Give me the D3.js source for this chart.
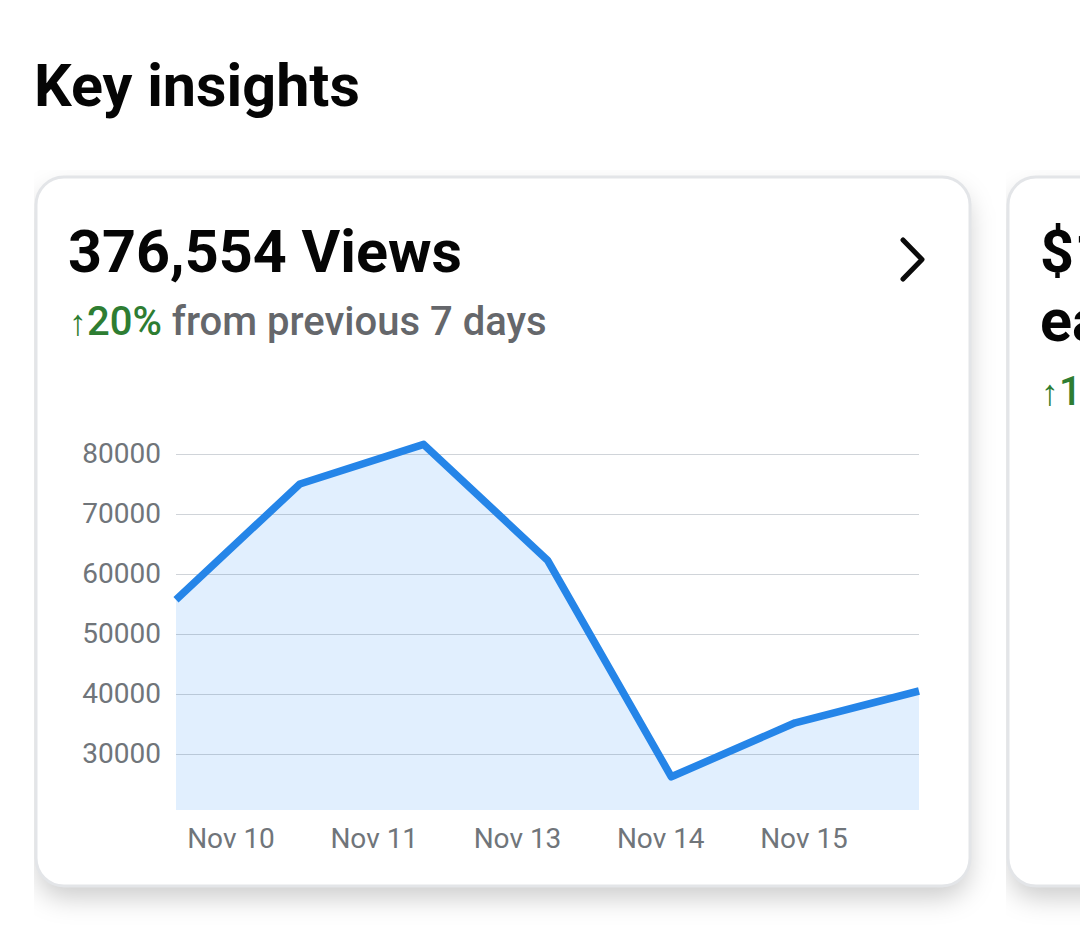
<!DOCTYPE html>
<html>
<head>
<meta charset="utf-8">
<script src="https://cdn.jsdelivr.net/npm/d3@7"></script>
<style>
  html, body { margin: 0; padding: 0; background: #fff; overflow: hidden; }
  svg { display: block; font-family: Roboto, sans-serif; }
</style>
</head>
<body>
<svg id="chart" width="1080" height="945"></svg>
<script>
const dayIndex = [0, 1, 2, 3, 4, 5, 6];
const viewValues = [55700, 75000, 81600, 62300, 26200, 35200, 40500];
const yTicks = [30000, 40000, 50000, 60000, 70000, 80000];
const xLabels = ["Nov 10", "Nov 11", "Nov 13", "Nov 14", "Nov 15"];

const svg = d3.select("#chart");
const defs = svg.append("defs");

defs.append("filter").attr("id", "soft")
  .attr("x", "-10%").attr("y", "-10%").attr("width", "120%").attr("height", "120%")
  .append("feGaussianBlur").attr("stdDeviation", 13);
defs.append("clipPath").attr("id", "clipFirst")
  .append("rect").attr("x", 34).attr("y", 170).attr("width", 1046).attr("height", 775);
defs.append("clipPath").attr("id", "clipSecond")
  .append("rect").attr("x", 1006).attr("y", 170).attr("width", 74).attr("height", 775);

function drawCard(x, w, clipId) {
  svg.append("g").attr("clip-path", `url(#${clipId})`)
    .append("rect")
    .attr("x", x + 1).attr("y", 190).attr("width", w - 2).attr("height", 708)
    .attr("rx", 28)
    .attr("fill", "#000").attr("fill-opacity", 0.2)
    .attr("filter", "url(#soft)");
  svg.append("rect")
    .attr("x", x).attr("y", 177).attr("width", w).attr("height", 709)
    .attr("rx", 28)
    .attr("fill", "#fff")
    .attr("stroke", "#e3e5e8").attr("stroke-width", 3);
}

drawCard(36, 934, "clipFirst");
drawCard(1008, 200, "clipSecond");

svg.append("text").attr("x", 34).attr("y", 106)
  .attr("font-size", 59.3).attr("font-weight", 700).attr("fill", "#050505")
  .text("Key insights");

svg.append("text").attr("x", 68).attr("y", 272)
  .attr("font-size", 59.3).attr("font-weight", 700).attr("fill", "#050505")
  .text("376,554 Views");

const delta = svg.append("text").attr("x", 69).attr("y", 335).attr("font-size", 40);
delta.append("tspan").attr("fill", "#2e7d32").attr("font-size", 36).attr("font-weight", 400).text("↑");
delta.append("tspan").attr("fill", "#2e7d32").attr("font-weight", 500).text("20%");
delta.append("tspan").attr("fill", "#65676b").attr("font-weight", 500).text(" from previous 7 days");

svg.append("path")
  .attr("d", d3.line()([[903, 240], [922, 259.5], [903, 279]]))
  .attr("fill", "none").attr("stroke", "#0a0a0a")
  .attr("stroke-width", 5).attr("stroke-linecap", "round").attr("stroke-linejoin", "round");

// next card, cut off by the window
svg.append("text").attr("x", 1040).attr("y", 272)
  .attr("font-size", 59.3).attr("font-weight", 700).attr("fill", "#050505").text("$1");
svg.append("text").attr("x", 1040).attr("y", 341)
  .attr("font-size", 59.3).attr("font-weight", 700).attr("fill", "#050505").text("ea");
const nextDelta = svg.append("text").attr("x", 1041).attr("y", 405).attr("font-size", 40);
nextDelta.append("tspan").attr("fill", "#2e7d32").attr("font-size", 36).text("↑");
nextDelta.append("tspan").attr("fill", "#2e7d32").attr("font-weight", 500).text("1");

// chart
const x = d3.scalePoint().domain(dayIndex).range([176, 919]);
const y = d3.scaleLinear().domain([30000, 80000]).range([754, 454]);
const xLabel = d3.scalePoint().domain(xLabels).range([230.5, 803.5]);
const baseY = 810;

svg.append("path").datum(dayIndex)
  .attr("d", d3.area().x(d => x(d)).y0(baseY).y1(d => y(viewValues[d])))
  .attr("fill", "#e1effe");

const yAxis = svg.append("g").attr("transform", "translate(176,0)")
  .call(d3.axisLeft(y).tickValues(yTicks).tickFormat(d3.format("d")).tickSize(-743).tickPadding(15));
yAxis.select(".domain").remove();
yAxis.selectAll(".tick line").attr("stroke", "#3c4a5f").attr("stroke-opacity", 0.24).attr("stroke-width", 1);
yAxis.selectAll(".tick text").attr("font-size", 28).attr("fill", "#70757a").attr("font-family", "Roboto, sans-serif");

const xAxis = svg.append("g").attr("transform", `translate(0,${baseY})`)
  .call(d3.axisBottom(xLabel).tickSize(0).tickPadding(18));
xAxis.select(".domain").remove();
xAxis.selectAll(".tick text").attr("font-size", 28).attr("fill", "#70757a").attr("font-family", "Roboto, sans-serif");

svg.append("path").datum(dayIndex)
  .attr("d", d3.line().x(d => x(d)).y(d => y(viewValues[d])))
  .attr("fill", "none").attr("stroke", "#2585e8")
  .attr("stroke-width", 7.5).attr("stroke-linejoin", "round");
</script>
</body>
</html>
